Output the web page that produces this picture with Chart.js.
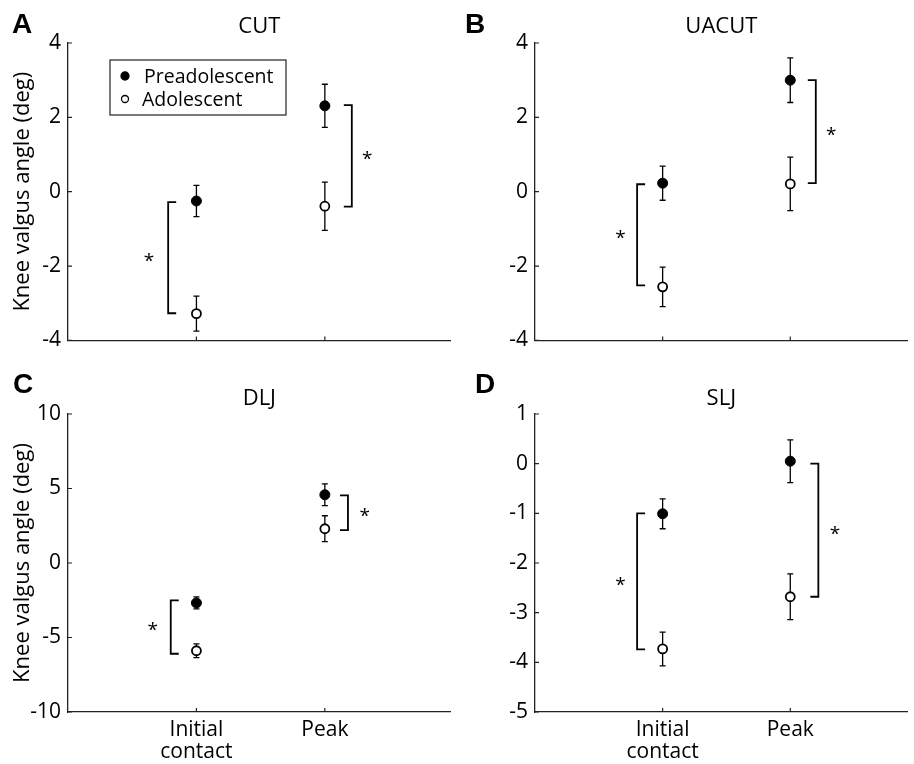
<!DOCTYPE html>
<html><head><meta charset="utf-8">
<script src="https://cdn.jsdelivr.net/npm/chart.js@4.4.1/dist/chart.umd.min.js"></script>
<style>
html,body{margin:0;padding:0;background:#fff;overflow:hidden}
#wrap{position:relative;width:914px;height:764px;background:#fff}
canvas{position:absolute}
</style></head><body>
<div id="wrap">
<canvas id="cA" width="457" height="360" style="left:0;top:0"></canvas>
<canvas id="cB" width="457" height="360" style="left:457px;top:0"></canvas>
<canvas id="cC" width="457" height="404" style="left:0;top:360px"></canvas>
<canvas id="cD" width="457" height="404" style="left:457px;top:360px"></canvas>
</div>
<script>
// ---------- data ----------
const categories = ['Initial contact', 'Peak'];
const categoryLabels = [['Initial', 'contact'], ['Peak']];
const seriesNames = ['Preadolescent', 'Adolescent'];
const tasks = ['CUT', 'UACUT', 'DLJ', 'SLJ'];
const panelLetters = ['A', 'B', 'C', 'D'];
const yAxisTitle = 'Knee valgus angle (deg)';

// CUT
const cutPre = [-0.25, 2.31];
const cutPreErr = [0.42, 0.58];
const cutAdo = [-3.28, -0.39];
const cutAdoErr = [0.47, 0.65];
const cutBrackets = [[-0.28, -3.27], [2.33, -0.40]];
const cutTicks = [-4, -2, 0, 2, 4];

// UACUT
const uacutPre = [0.23, 3.00];
const uacutPreErr = [0.46, 0.60];
const uacutAdo = [-2.56, 0.21];
const uacutAdoErr = [0.53, 0.72];
const uacutBrackets = [[0.20, -2.52], [3.00, 0.23]];
const uacutTicks = [-4, -2, 0, 2, 4];

// DLJ
const dljPre = [-2.68, 4.58];
const dljPreErr = [0.40, 0.73];
const dljAdo = [-5.89, 2.30];
const dljAdoErr = [0.46, 0.87];
const dljBrackets = [[-2.51, -6.09], [4.54, 2.21]];
const dljTicks = [-10, -5, 0, 5, 10];

// SLJ
const sljPre = [-1.01, 0.05];
const sljPreErr = [0.30, 0.43];
const sljAdo = [-3.73, -2.68];
const sljAdoErr = [0.34, 0.46];
const sljBrackets = [[-1.00, -3.74], [0.00, -2.68]];
const sljTicks = [-5, -4, -3, -2, -1, 0, 1];

// ---------- styling ----------
const FONT = '"Open Sans", "Noto Sans", sans-serif';
const AXIS = '#222';

function panelPlugin(cfg) {
  return {
    id: 'panelDeco',
    beforeDatasetsDraw(chart) {
      const {ctx, scales: {x, y}} = chart;
      ctx.save();
      ctx.strokeStyle = '#000';
      ctx.lineWidth = 1.3;
      chart.data.datasets.forEach(ds => {
        ds.data.forEach((p, i) => {
          const e = ds.errors[i];
          const px = x.getPixelForValue(p.x);
          const y1 = y.getPixelForValue(p.y + e), y2 = y.getPixelForValue(p.y - e);
          ctx.beginPath();
          ctx.moveTo(px, y1); ctx.lineTo(px, y2);
          ctx.moveTo(px - 3, y1); ctx.lineTo(px + 3, y1);
          ctx.moveTo(px - 3, y2); ctx.lineTo(px + 3, y2);
          ctx.stroke();
        });
      });
      ctx.restore();
    },
    afterDatasetsDraw(chart) {
      const {ctx, scales: {x, y}} = chart;
      ctx.save();
      ctx.strokeStyle = '#000';
      ctx.lineWidth = 1.8;
      ctx.fillStyle = '#000';
      cfg.brackets.forEach((b, i) => {
        const side = i === 0 ? -1 : 1;
        const bx = x.getPixelForValue(i + 1 + side * cfg.bracketOff[i]);
        const arm = -side * 8;
        const ya = y.getPixelForValue(b[0]), yb = y.getPixelForValue(b[1]);
        ctx.beginPath();
        ctx.moveTo(bx + arm, ya); ctx.lineTo(bx, ya); ctx.lineTo(bx, yb); ctx.lineTo(bx + arm, yb);
        ctx.stroke();
        const ax = x.getPixelForValue(i + 1 + side * cfg.starOff[i]);
        const ay = y.getPixelForValue((b[0] + b[1]) / 2);
        ctx.font = '19px ' + FONT;
        ctx.textAlign = 'center';
        ctx.textBaseline = 'middle';
        ctx.fillText('*', ax, ay + 4);
      });
      ctx.restore();
    },
    afterDraw(chart) {
      const {ctx, scales: {x, y}, chartArea: ca} = chart;
      ctx.save();
      // inward tick marks
      ctx.strokeStyle = AXIS;
      ctx.lineWidth = 1.2;
      ctx.beginPath();
      y.ticks.forEach(t => {
        const py = y.getPixelForValue(t.value);
        ctx.moveTo(ca.left, py); ctx.lineTo(ca.left + 4, py);
      });
      x.ticks.forEach(t => {
        const px = x.getPixelForValue(t.value);
        ctx.moveTo(px, ca.bottom); ctx.lineTo(px, ca.bottom - 4);
      });
      ctx.stroke();
      // title
      ctx.fillStyle = '#000';
      ctx.font = '22px ' + FONT;
      ctx.textAlign = 'center';
      ctx.textBaseline = 'alphabetic';
      ctx.fillText(cfg.title, (ca.left + ca.right) / 2, ca.top - cfg.titleGap);
      // panel letter
      ctx.font = 'bold 28px "Liberation Sans", Arial, sans-serif';
      ctx.textAlign = 'left';
      ctx.fillText(cfg.letter, cfg.letterX, 33);
      // legend
      if (cfg.legend) {
        const lx = 110, ly = 60, lw = 176, lh = 55;
        ctx.strokeStyle = AXIS;
        ctx.lineWidth = 1.2;
        ctx.strokeRect(lx, ly, lw, lh);
        ctx.font = '19.5px ' + FONT;
        ctx.textBaseline = 'middle';
        chart.data.datasets.forEach((ds, k) => {
          const cy = ly + 16 + k * 23;
          ctx.beginPath();
          ctx.arc(lx + 15, cy, k === 0 ? 4 : 3.5, 0, Math.PI * 2);
          ctx.fillStyle = ds.pointBackgroundColor;
          ctx.fill();
          ctx.strokeStyle = '#000';
          ctx.lineWidth = 1.3;
          ctx.stroke();
          ctx.fillStyle = '#000';
          ctx.fillText(ds.label, lx + 34 - k * 2, cy + 1);
        });
      }
      ctx.restore();
    }
  };
}

function makePanel(id, cfg) {
  const tickFont = {family: FONT, size: 21, lineHeight: 1.05};
  new Chart(document.getElementById(id), {
    type: 'scatter',
    data: {
      datasets: [
        {label: seriesNames[0], data: cfg.pre.map((v, i) => ({x: i + 1, y: v})), errors: cfg.preErr,
         pointRadius: 5, pointBackgroundColor: '#000', pointBorderColor: '#000', pointBorderWidth: 1},
        {label: seriesNames[1], data: cfg.ado.map((v, i) => ({x: i + 1, y: v})), errors: cfg.adoErr,
         pointRadius: 4.5, pointBackgroundColor: '#fff', pointBorderColor: '#000', pointBorderWidth: 1.8}
      ]
    },
    options: {
      responsive: false, animation: false, events: [],
      layout: {padding: {left: 0, top: cfg.top, right: cfg.right, bottom: 0}},
      plugins: {legend: {display: false}, tooltip: {enabled: false}},
      scales: {
        x: {
          type: 'linear', min: 0, max: cfg.xmax,
          afterBuildTicks: s => { s.ticks = categories.map((c, i) => ({value: i + 1})); },
          afterFit: s => { s.height = cfg.xh; },
          grid: {display: false, drawTicks: false},
          border: {display: true, color: AXIS, width: 1.3},
          ticks: {display: cfg.showX, autoSkip: false, maxRotation: 0, padding: 7, color: '#000',
                  font: tickFont, callback: v => categoryLabels[v - 1]}
        },
        y: {
          min: cfg.yticks[0], max: cfg.yticks[cfg.yticks.length - 1],
          afterBuildTicks: s => { s.ticks = cfg.yticks.map(v => ({value: v})); },
          afterFit: s => { s.width = cfg.yw; },
          grid: {display: false, drawTicks: false},
          border: {display: true, color: AXIS, width: 1.3},
          ticks: {padding: 7, color: '#000', font: {family: FONT, size: 21}},
          title: {display: cfg.showYTitle, text: yAxisTitle, color: '#000',
                  font: {family: FONT, size: 22, lineHeight: 1.2},
                  padding: {top: 10, bottom: 0}}
        }
      }
    },
    plugins: [panelPlugin(cfg)]
  });
}

makePanel('cA', {pre: cutPre, preErr: cutPreErr, ado: cutAdo, adoErr: cutAdoErr, brackets: cutBrackets,
  yticks: cutTicks, title: tasks[0], letter: panelLetters[0], letterX: 12, legend: true,
  top: 43, right: 2, xh: 19, yw: 68, xmax: 2.98, showX: false, showYTitle: true, titleGap: 10,
  bracketOff: [0.22, 0.21], starOff: [0.37, 0.33]});
makePanel('cB', {pre: uacutPre, preErr: uacutPreErr, ado: uacutAdo, adoErr: uacutAdoErr, brackets: uacutBrackets,
  yticks: uacutTicks, title: tasks[1], letter: panelLetters[1], letterX: 8, legend: false,
  top: 43, right: 0, xh: 19, yw: 78, xmax: 2.92, showX: false, showYTitle: false, titleGap: 10,
  bracketOff: [0.2, 0.2], starOff: [0.33, 0.32]});
makePanel('cC', {pre: dljPre, preErr: dljPreErr, ado: dljAdo, adoErr: dljAdoErr, brackets: dljBrackets,
  yticks: dljTicks, title: tasks[2], letter: panelLetters[2], letterX: 13, legend: false,
  top: 54, right: 2, xh: 52, yw: 68, xmax: 2.98, showX: true, showYTitle: true, titleGap: 9,
  bracketOff: [0.2, 0.18], starOff: [0.34, 0.31]});
makePanel('cD', {pre: sljPre, preErr: sljPreErr, ado: sljAdo, adoErr: sljAdoErr, brackets: sljBrackets,
  yticks: sljTicks, title: tasks[3], letter: panelLetters[3], letterX: 18, legend: false,
  top: 54, right: 0, xh: 52, yw: 78, xmax: 2.92, showX: true, showYTitle: false, titleGap: 9,
  bracketOff: [0.2, 0.22], starOff: [0.33, 0.35]});
</script>
</body></html>
